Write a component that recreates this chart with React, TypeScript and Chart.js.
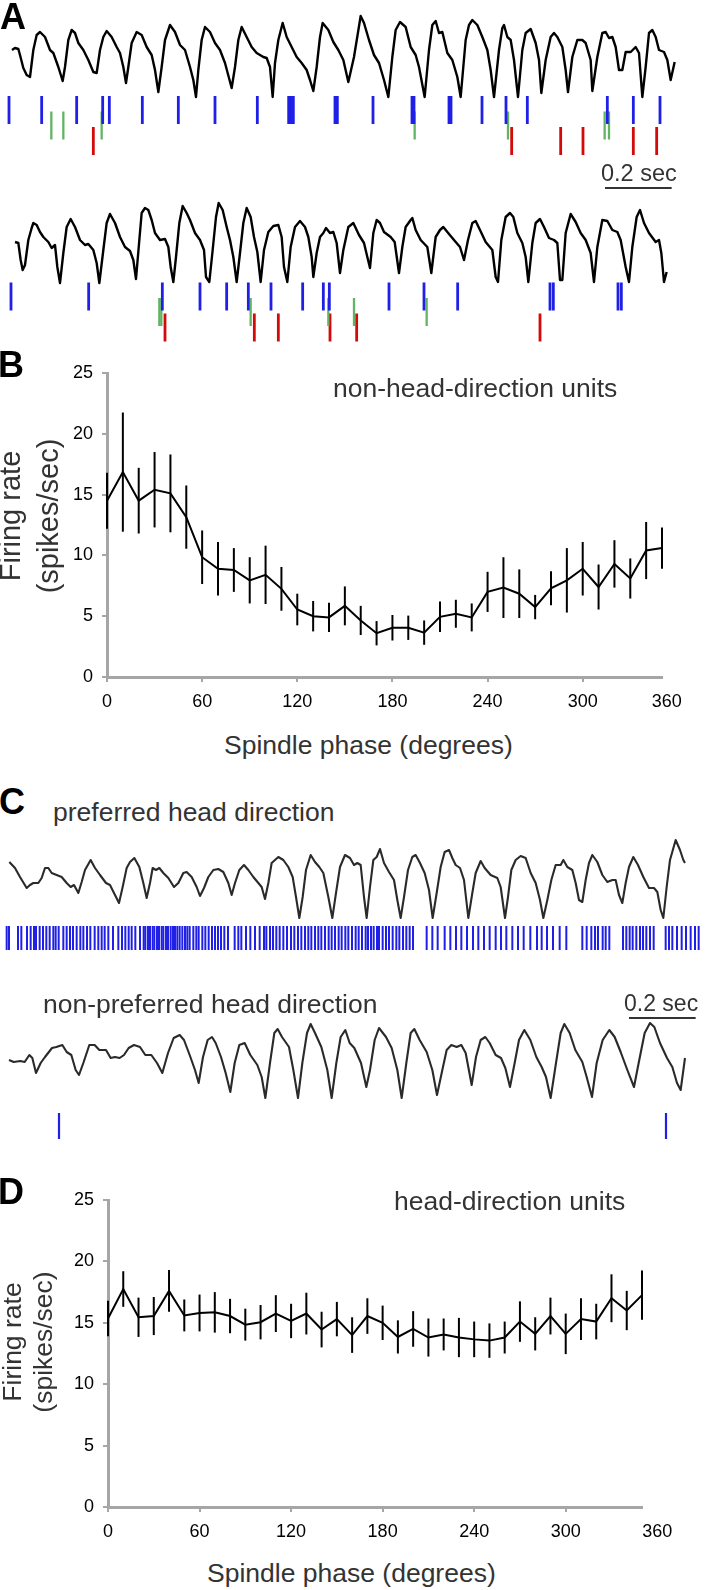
import React, { useEffect, useRef } from 'react';
import { Chart, registerables } from 'chart.js';

Chart.register(...registerables);

const FONT = '"Liberation Sans", Arial, Helvetica, sans-serif';
Chart.defaults.font.family = FONT;

const TEXT = '#333333';
const AXIS_GREY = '#a6a6a6';
const BLUE = '#1f1fe6';
const GREEN = '#62b462';
const RED = '#d20a0a';
const SCALE_MS = 200; // 0.2 sec scale bar

// ---------- Panel A / C : field potential traces [time ms, amplitude a.u.] ----------
const TRACE_A1: [number, number][] = [
  [36,50],[45,52],[55,51],[60,45],[70,32],[80,25],[90,23],[100,50],[110,65],[120,68],[135,63],[150,50],[160,47],[175,33],[188,19],[195,33],[205,60],[215,70],[225,67],[235,57],[250,50],[265,40],[280,28],[290,27],[300,50],[310,63],[320,69],[335,63],[350,53],[360,47],[370,33],[378,17],[385,33],[395,57],[410,68],[425,65],[440,53],[455,45],[465,30],[475,8],[485,33],[495,60],[510,75],[525,68],[540,55],[555,50],[570,33],[580,20],[588,3],[595,30],[605,60],[615,73],[630,68],[645,57],[660,50],[675,37],[695,12],[705,33],[715,60],[725,73],[740,63],[755,53],[770,47],[790,43],[800,42],[810,33],[818,3],[825,37],[835,60],[848,77],[860,63],[875,53],[890,43],[905,37],[920,30],[930,20],[940,9],[950,33],[960,63],[968,77],[985,70],[1000,58],[1015,50],[1030,40],[1045,18],[1062,43],[1082,84],[1092,77],[1107,60],[1122,45],[1137,37],[1152,20],[1165,3],[1177,43],[1187,70],[1200,78],[1217,73],[1232,53],[1247,45],[1257,33],[1274,3],[1287,50],[1297,75],[1307,79],[1317,67],[1327,68],[1342,47],[1357,40],[1372,23],[1382,3],[1397,60],[1407,75],[1417,80],[1432,75],[1447,63],[1462,50],[1472,30],[1482,3],[1497,50],[1507,72],[1512,75],[1522,63],[1532,60],[1542,40],[1554,3],[1567,50],[1577,67],[1592,71],[1607,57],[1617,40],[1624,7],[1637,40],[1652,63],[1662,67],[1672,63],[1687,53],[1697,30],[1704,8],[1717,43],[1732,60],[1747,60],[1757,57],[1772,40],[1777,9],[1792,43],[1807,67],[1817,68],[1827,62],[1837,63],[1847,53],[1857,30],[1867,30],[1877,48],[1892,48],[1907,53],[1917,47],[1927,3],[1937,33],[1947,67],[1957,70],[1967,63],[1977,50],[1992,48],[2002,40],[2012,20],[2024,38]
];

const TRACE_A2: [number, number][] = [
  [45,48],[55,47],[62,30],[68,20],[75,25],[85,50],[95,62],[100,67],[110,65],[120,58],[130,53],[145,48],[155,42],[165,45],[172,23],[180,7],[190,37],[200,63],[212,71],[225,63],[240,50],[255,45],[265,46],[280,40],[290,27],[298,7],[310,40],[320,67],[330,76],[345,67],[360,53],[375,43],[390,39],[400,30],[408,11],[418,50],[425,77],[435,82],[445,80],[455,70],[465,57],[480,50],[495,51],[505,43],[512,23],[520,8],[528,33],[538,67],[548,84],[560,77],[570,70],[585,57],[600,50],[612,40],[618,13],[628,8],[638,40],[648,73],[656,87],[668,80],[680,63],[690,50],[700,33],[710,8],[720,37],[730,67],[740,82],[752,73],[762,53],[772,38],[782,8],[792,40],[805,58],[820,64],[835,65],[845,53],[852,23],[862,8],[872,43],[885,63],[900,69],[915,63],[925,53],[935,33],[940,13],[950,37],[960,53],[970,57],[978,62],[990,57],[1000,58],[1010,47],[1020,17],[1030,40],[1045,63],[1060,67],[1077,55],[1092,47],[1102,33],[1110,22],[1120,57],[1130,70],[1140,67],[1152,58],[1172,53],[1184,48],[1197,17],[1207,43],[1217,63],[1232,70],[1237,72],[1247,60],[1262,50],[1282,43],[1294,17],[1307,53],[1320,60],[1330,63],[1342,58],[1362,50],[1380,43],[1392,30],[1404,50],[1417,67],[1427,69],[1440,60],[1457,48],[1477,40],[1487,13],[1494,8],[1504,50],[1517,73],[1530,77],[1540,73],[1552,57],[1567,47],[1577,33],[1585,8],[1597,47],[1607,67],[1620,71],[1632,63],[1647,52],[1662,50],[1672,47],[1680,10],[1687,10],[1697,57],[1712,76],[1727,68],[1742,57],[1757,50],[1772,37],[1782,8],[1792,43],[1807,70],[1822,69],[1837,60],[1852,58],[1862,50],[1877,23],[1887,8],[1897,43],[1910,73],[1920,80],[1932,67],[1947,57],[1967,48],[1977,50],[1984,37],[1992,8],[2000,18]
];

const TRACE_C1: [number, number][] = [
  [28,58],[45,52],[60,43],[80,32],[90,35],[100,37],[115,37],[125,42],[135,52],[145,52],[155,47],[170,45],[185,43],[200,37],[212,33],[222,35],[235,27],[245,38],[255,50],[272,60],[285,52],[300,45],[318,37],[330,35],[345,25],[357,17],[368,33],[380,52],[390,58],[403,62],[418,53],[430,37],[440,22],[450,37],[458,52],[468,50],[478,52],[490,47],[505,42],[522,33],[535,37],[550,47],[560,48],[575,43],[590,33],[600,24],[612,32],[625,43],[640,50],[655,51],[670,48],[685,37],[695,25],[705,37],[718,50],[732,55],[745,50],[760,43],[775,37],[785,33],[795,21],[805,37],[815,57],[825,60],[835,63],[850,60],[865,53],[878,43],[888,23],[898,2],[908,23],[918,50],[932,65],[945,58],[958,53],[970,47],[985,23],[997,2],[1008,27],[1020,53],[1035,65],[1050,62],[1062,55],[1072,57],[1082,55],[1092,23],[1100,2],[1110,33],[1120,60],[1130,63],[1140,71],[1152,57],[1167,48],[1182,40],[1192,20],[1202,2],[1212,23],[1224,50],[1237,63],[1247,65],[1260,57],[1274,47],[1287,30],[1298,2],[1310,27],[1322,53],[1334,68],[1347,70],[1357,62],[1367,55],[1380,52],[1392,40],[1405,2],[1417,27],[1427,47],[1442,59],[1454,52],[1472,45],[1492,42],[1502,33],[1515,2],[1524,23],[1534,50],[1547,60],[1562,64],[1577,62],[1592,47],[1607,37],[1620,20],[1630,2],[1642,20],[1654,40],[1667,55],[1682,55],[1690,60],[1702,53],[1717,50],[1727,37],[1737,20],[1747,18],[1757,40],[1767,57],[1777,65],[1792,58],[1807,45],[1822,38],[1837,40],[1847,40],[1857,25],[1867,17],[1877,37],[1887,53],[1900,63],[1914,55],[1930,43],[1947,32],[1962,32],[1972,28],[1982,10],[1990,2],[2000,33],[2010,60],[2027,80],[2040,70],[2050,60],[2055,57]
];

const TRACE_C2: [number, number][] = [
  [27,40],[41,38],[61,39],[74,38],[88,45],[97,42],[108,27],[122,37],[135,43],[156,52],[169,53],[187,55],[200,48],[214,45],[227,30],[237,25],[250,37],[268,55],[284,55],[298,50],[318,50],[332,42],[345,43],[359,42],[372,45],[386,52],[402,55],[420,53],[436,45],[454,45],[471,37],[487,27],[504,47],[521,62],[539,65],[552,60],[569,45],[585,30],[596,17],[609,43],[623,60],[636,63],[647,57],[663,43],[677,27],[691,8],[704,37],[718,55],[734,57],[751,45],[772,35],[785,23],[796,2],[810,37],[823,67],[833,71],[846,63],[867,53],[880,30],[894,2],[907,37],[921,67],[932,76],[945,67],[964,53],[982,30],[995,2],[1009,37],[1022,63],[1036,70],[1049,57],[1063,52],[1083,37],[1099,13],[1110,30],[1124,60],[1137,72],[1158,63],[1175,52],[1192,30],[1205,2],[1219,37],[1232,67],[1243,71],[1259,60],[1280,48],[1297,30],[1311,5],[1327,30],[1340,50],[1354,55],[1370,53],[1384,55],[1397,47],[1415,15],[1428,43],[1442,60],[1456,63],[1469,57],[1487,45],[1503,42],[1516,32],[1530,13],[1544,37],[1557,60],[1573,70],[1591,60],[1609,43],[1625,33],[1638,23],[1652,2],[1668,37],[1682,67],[1693,76],[1709,67],[1726,50],[1747,38],[1760,23],[1776,3],[1790,37],[1808,60],[1828,70],[1844,63],[1862,48],[1882,30],[1902,13],[1916,37],[1934,67],[1950,77],[1963,73],[1980,57],[2001,42],[2017,33],[2031,17],[2042,10],[2055,42]
];

// ---------- spike times (ms) ----------
const SPK_A1_BLUE = [27,125,230,308,328,427,535,645,772,866,872,880,1005,1012,1119,1236,1242,1347,1353,1446,1518,1582,1822,1900,1980];
const SPK_A1_GREEN = [154,190,305,1244,1524,1814,1827];
const SPK_A1_RED = [280,1535,1682,1749,1900,1970];
const SPK_A2_BLUE = [33,266,487,600,680,745,813,908,970,988,1167,1272,1373,1650,1660,1854,1864];
const SPK_A2_GREEN = [478,484,752,985,1062,1280];
const SPK_A2_RED = [495,763,835,990,1070,1620];
const SPK_C1 = [20,27,54,64,81,92,102,108,119,129,139,149,160,167,176,190,200,210,219,230,241,250,261,271,284,295,305,314,325,339,355,366,376,386,395,406,420,431,436,444,450,458,463,471,477,485,490,498,504,512,519,525,532,539,547,555,562,569,580,589,596,607,616,626,636,645,654,663,673,684,704,715,724,738,751,765,779,792,799,810,819,829,839,850,861,873,883,894,904,915,925,934,945,955,964,975,986,995,1005,1016,1025,1036,1045,1056,1067,1076,1086,1097,1104,1113,1121,1131,1137,1148,1158,1167,1178,1189,1198,1209,1219,1229,1239,1280,1297,1313,1334,1351,1368,1384,1401,1419,1435,1452,1469,1487,1503,1519,1537,1554,1571,1591,1611,1625,1641,1659,1679,1699,1747,1760,1774,1785,1794,1808,1817,1828,1869,1879,1889,1898,1909,1920,1929,1939,1950,1961,1997,2007,2017,2031,2045,2058,2072,2085,2096];
const SPK_C2 = [177,1998];

// ---------- Panels B / D : firing rate vs spindle phase ----------
const PHASE = [0,10,20,30,40,50,60,70,80,90,100,110,120,130,140,150,160,170,180,190,200,210,220,230,240,250,260,270,280,290,300,310,320,330,340,350];
const PHASE_LABELS = ['0','60','120','180','240','300','360'];
const RATE_TICKS = [0,5,10,15,20,25];

const RATE_NONHD = [14.5,16.85,14.5,15.4,15.1,13.15,9.85,8.9,8.8,7.95,8.4,7.25,5.55,5.0,4.9,5.85,4.65,3.6,4.05,4.05,3.65,4.95,5.2,4.9,7.0,7.35,6.85,5.75,7.3,7.95,8.9,7.4,9.3,8.1,10.4,10.6];
const SEM_NONHD = [2.3,4.9,2.7,3.1,3.2,2.6,2.2,2.2,1.8,1.9,2.4,1.8,1.3,1.25,1.2,1.6,1.2,1.0,1.05,1.0,1.0,1.25,1.15,1.15,1.65,2.5,2.0,1.0,1.4,2.65,2.2,1.85,1.95,1.65,2.35,1.7];

const RATE_HD = [15.35,17.75,15.45,15.55,17.6,15.6,15.8,15.85,15.55,14.85,15.05,15.75,15.15,15.75,14.45,15.3,14.0,15.55,15.0,13.85,14.5,13.8,14.05,13.8,13.65,13.55,13.8,15.1,14.1,15.55,14.1,15.3,15.1,17.0,16.0,17.25];
const SEM_HD = [1.45,1.45,1.6,1.55,1.7,1.3,1.5,1.65,1.4,1.3,1.4,1.5,1.4,1.7,1.45,1.4,1.45,1.45,1.4,1.35,1.45,1.55,1.3,1.6,1.45,1.4,1.3,1.65,1.35,1.5,1.65,1.7,1.45,1.95,1.6,2.0];

// ---------- chart builders ----------
type Raster = { times: number[]; row: number; color: string; half: number; width: number };

function traceConfig(o: {
  trace: [number, number][]; color: string; lw: number;
  amp: [number, number]; rows: [number, number]; rasters: Raster[];
  bar?: { t0: number; amp: number };
}) {
  const datasets: any[] = [
    {
      data: o.trace.map(([x, y]) => ({ x, y })), yAxisID: 'y',
      borderColor: o.color, borderWidth: o.lw, pointRadius: 0, tension: 0,
      borderJoinStyle: 'round', clip: false,
    },
    ...o.rasters.map((r) => ({
      data: r.times.map((t) => ({ x: t, y: r.row })), yAxisID: 'yr', showLine: false,
      pointStyle: 'line', pointRotation: 90, pointRadius: r.half, pointBorderWidth: r.width,
      pointBorderColor: r.color, pointBackgroundColor: r.color, clip: false,
    })),
  ];
  if (o.bar) {
    datasets.push({
      data: [{ x: o.bar.t0, y: o.bar.amp }, { x: o.bar.t0 + SCALE_MS, y: o.bar.amp }], yAxisID: 'y',
      borderColor: '#333', borderWidth: 2, pointRadius: 0, clip: false,
    });
  }
  return {
    type: 'line',
    data: { datasets },
    options: {
      responsive: false, animation: false, events: [],
      layout: { padding: 0, autoPadding: false },
      plugins: { legend: { display: false }, tooltip: { enabled: false } },
      scales: {
        x: { type: 'linear', min: 0, max: 2124, display: false },
        y: { type: 'linear', min: o.amp[0], max: o.amp[1], display: false },
        yr: { type: 'linear', min: o.rows[0], max: o.rows[1], reverse: true, display: false },
      },
    },
  };
}

function errorBars(mean: number[], sem: number[]) {
  return {
    id: 'errorBars',
    afterDatasetsDraw(chart: any) {
      const { ctx, scales } = chart;
      const xs = scales.x, ys = scales.y;
      ctx.save();
      ctx.strokeStyle = '#000';
      ctx.lineWidth = 2;
      PHASE.forEach((p, i) => {
        const px = xs.getPixelForValue(p);
        ctx.beginPath();
        ctx.moveTo(px, ys.getPixelForValue(mean[i] + sem[i]));
        ctx.lineTo(px, ys.getPixelForValue(mean[i] - sem[i]));
        ctx.stroke();
      });
      ctx.restore();
    },
  };
}

function rateConfig(o: { mean: number[]; sem: number[]; xTicks: number[]; padTop: number; padRight: number; yWidth: number }) {
  const tickFont = { size: 18, family: FONT };
  return {
    type: 'line',
    data: {
      datasets: [{
        data: PHASE.map((p, i) => ({ x: p, y: o.mean[i] })),
        borderColor: '#000', borderWidth: 2, pointRadius: 0, tension: 0, clip: false,
      }],
    },
    options: {
      responsive: false, animation: false, events: [],
      layout: { padding: { top: o.padTop, right: o.padRight, left: 0, bottom: 0 }, autoPadding: false },
      plugins: { legend: { display: false }, tooltip: { enabled: false } },
      scales: {
        x: {
          type: 'linear', min: 0, max: 350, z: 1,
          afterBuildTicks: (s: any) => { s.ticks = o.xTicks.map((v) => ({ value: v })); },
          afterFit: (s: any) => { s.height = 43; },
          ticks: {
            autoSkip: false, maxRotation: 0, minRotation: 0, padding: 9, color: '#000', font: tickFont,
            callback: (_v: any, i: number) => PHASE_LABELS[i],
          },
          grid: {
            drawOnChartArea: false, drawTicks: true, tickLength: 5, lineWidth: 2,
            color: (c: any) => (c.index === PHASE_LABELS.length - 1 ? 'rgba(0,0,0,0)' : AXIS_GREY),
          },
          border: { display: true, color: AXIS_GREY, width: 3 },
        },
        y: {
          type: 'linear', min: 0, max: 25, z: 1,
          afterBuildTicks: (s: any) => { s.ticks = RATE_TICKS.map((v) => ({ value: v })); },
          afterFit: (s: any) => { s.width = o.yWidth; },
          ticks: { padding: 9, color: '#000', font: tickFont },
          grid: { drawOnChartArea: false, drawTicks: true, tickLength: 5, lineWidth: 2, color: AXIS_GREY },
          border: { display: true, color: AXIS_GREY, width: 3 },
        },
      },
    },
    plugins: [errorBars(o.mean, o.sem)],
  };
}

// ---------- components ----------
function ChartBox({ top, height, make }: { top: number; height: number; make: () => any }) {
  const ref = useRef<HTMLCanvasElement>(null);
  useEffect(() => {
    const chart = new Chart(ref.current as HTMLCanvasElement, make());
    return () => chart.destroy();
  }, []);
  return (
    <canvas ref={ref} width={708} height={height}
      style={{ position: 'absolute', left: 0, top, width: 708, height }} />
  );
}

function Txt({ x, base, size, text, bold = false, color = TEXT }: any) {
  return (
    <div style={{
      position: 'absolute', left: x, top: base - 0.8465 * size, fontSize: size, lineHeight: `${size}px`,
      fontFamily: FONT, fontWeight: bold ? 700 : 400, color, whiteSpace: 'nowrap',
    }}>{text}</div>
  );
}

function VTitle({ cx, cy, size, gap, lines }: any) {
  const w = 260, h = gap * lines.length;
  return (
    <div style={{
      position: 'absolute', left: cx - w / 2, top: cy - h / 2, width: w, height: h,
      transform: 'rotate(-90deg)', textAlign: 'center', fontFamily: FONT, fontSize: size,
      lineHeight: `${gap}px`, color: TEXT, whiteSpace: 'nowrap',
    }}>
      {lines.map((l: string) => <div key={l}>{l}</div>)}
    </div>
  );
}

export default function App() {
  return (
    <div style={{ position: 'absolute', left: 0, top: 0, width: 708, height: 1590, background: '#fff', overflow: 'hidden' }}>
      {/* Panel A */}
      <ChartBox top={0} height={196} make={() => traceConfig({
        trace: TRACE_A1, color: '#000', lw: 2.4, amp: [-96, 100], rows: [-7.097, 5.548],
        rasters: [
          { times: SPK_A1_BLUE, row: 0, color: BLUE, half: 14, width: 2.8 },
          { times: SPK_A1_GREEN, row: 1, color: GREEN, half: 14, width: 2.3 },
          { times: SPK_A1_RED, row: 2, color: RED, half: 14, width: 2.8 },
        ],
        bar: { t0: 1815, amp: -88 },
      })} />
      <ChartBox top={196} height={150} make={() => traceConfig({
        trace: TRACE_A2, color: '#000', lw: 2.4, amp: [-56, 94], rows: [-6.484, 3.194],
        rasters: [
          { times: SPK_A2_BLUE, row: 0, color: BLUE, half: 14, width: 2.8 },
          { times: SPK_A2_GREEN, row: 1, color: GREEN, half: 14, width: 2.3 },
          { times: SPK_A2_RED, row: 2, color: RED, half: 14, width: 2.8 },
        ],
      })} />

      {/* Panel B */}
      <ChartBox top={340} height={380} make={() => rateConfig({
        mean: RATE_NONHD, sem: SEM_NONHD, xTicks: [0, 60, 120, 180, 240, 300, 353],
        padTop: 33, padRight: 46, yWidth: 107,
      })} />

      {/* Panel C */}
      <ChartBox top={830} height={125} make={() => traceConfig({
        trace: TRACE_C1, color: '#2a2a2a', lw: 2.1, amp: [-35, 90], rows: [-6.968, 1.097],
        rasters: [{ times: SPK_C1, row: 0, color: BLUE, half: 12, width: 2 }],
      })} />
      <ChartBox top={1010} height={135} make={() => traceConfig({
        trace: TRACE_C2, color: '#2a2a2a', lw: 2.1, amp: [-45, 90], rows: [-7.484, 1.226],
        rasters: [{ times: SPK_C2, row: 0, color: BLUE, half: 13, width: 2.2 }],
        bar: { t0: 1887, amp: 82 },
      })} />

      {/* Panel D */}
      <ChartBox top={1170} height={380} make={() => rateConfig({
        mean: RATE_HD, sem: SEM_HD, xTicks: [0, 60, 120, 180, 240, 300, 360],
        padTop: 30, padRight: 66, yWidth: 108,
      })} />

      {/* text */}
      <Txt x={0} base={29} size={36} text="A" bold color="#000" />
      <Txt x={-2} base={377} size={36} text="B" bold color="#000" />
      <Txt x={-1} base={814} size={36} text="C" bold color="#000" />
      <Txt x={-2} base={1204} size={36} text="D" bold color="#000" />

      <Txt x={601} base={182} size={23.5} text="0.2 sec" />
      <Txt x={333} base={397} size={26.5} text="non-head-direction units" />
      <Txt x={224} base={754} size={26.5} text="Spindle phase (degrees)" />
      <VTitle cx={29} cy={516} size={29} gap={38} lines={['Firing rate', '(spikes/sec)']} />

      <Txt x={53} base={821} size={26.5} text="preferred head direction" />
      <Txt x={43} base={1013} size={26.5} text="non-preferred head direction" />
      <Txt x={624} base={1011} size={23} text="0.2 sec" />

      <Txt x={394} base={1210} size={26.5} text="head-direction units" />
      <Txt x={207} base={1582} size={26.5} text="Spindle phase (degrees)" />
      <VTitle cx={28} cy={1342} size={26.5} gap={31} lines={['Firing rate', '(spikes/sec)']} />
    </div>
  );
}
